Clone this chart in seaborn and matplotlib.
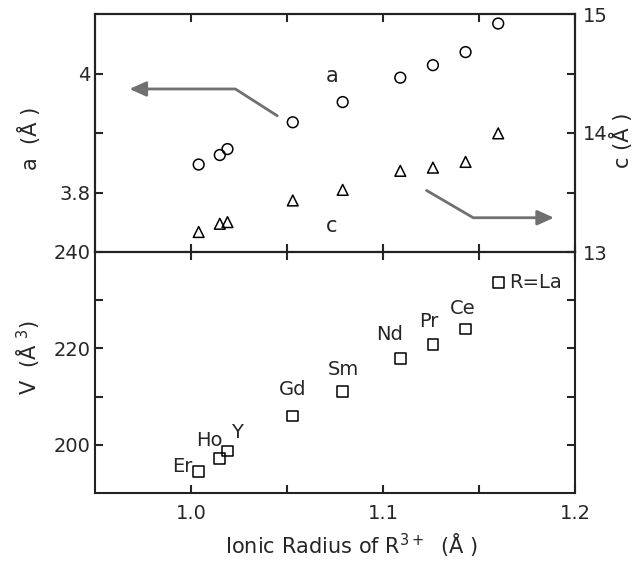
import matplotlib
matplotlib.use("Agg")
import matplotlib.pyplot as plt
import seaborn as sns
import pandas as pd
from matplotlib.ticker import FixedLocator

sns.set_style("white")
plt.rcParams['font.family'] = ['DejaVu Sans']
plt.rcParams['mathtext.fontset'] = 'dejavusans'

elements = ["Er", "Ho", "Y", "Gd", "Sm", "Nd", "Pr", "Ce", "R=La"]
radius = [1.004, 1.015, 1.019, 1.053, 1.079, 1.109, 1.126, 1.143, 1.160]
a_vals = [3.847, 3.863, 3.873, 3.918, 3.952, 3.993, 4.014, 4.036, 4.084]
c_vals = [13.168, 13.237, 13.251, 13.433, 13.522, 13.682, 13.709, 13.757, 13.997]
v_vals = [194.4, 197.2, 198.7, 206.0, 211.1, 217.9, 220.8, 224.0, 233.6]
# label offsets (points) and alignment
lab_dx = [-4.3, -7.7, 6.8, 0.0, 0.7, -7.9, -2.9, -1.8, 7.9]
lab_dy = [3.6, 12.7, 13.7, 18.7, 15.8, 17.3, 16.6, 15.1, 0.0]
lab_ha = ["right", "center", "center", "center", "center", "center", "center", "center", "left"]

df = pd.DataFrame({"r": radius, "a": a_vals, "c": c_vals, "V": v_vals, "el": elements})

fig = plt.figure(figsize=(6.4, 5.61), dpi=100)
L, R = 95 / 640, 575 / 640
ax1 = fig.add_axes([L, 1 - 252 / 561, R - L, (252 - 14) / 561])
ax3 = fig.add_axes([L, 1 - 493 / 561, R - L, (493 - 252) / 561], sharex=ax1)
ax2 = ax1.twinx()

mk = dict(facecolor="none", edgecolor="black", linewidth=1.1, s=60, legend=False)
sns.scatterplot(data=df, x="r", y="a", marker="o", ax=ax1, **mk)
sns.scatterplot(data=df, x="r", y="c", marker="^", ax=ax2, **mk)
sns.scatterplot(data=df, x="r", y="V", marker="s", ax=ax3, **mk)

ax1.set_xlim(0.95, 1.2)
ax1.set_ylim(3.7, 4.1)
ax2.set_ylim(13, 15)
ax3.set_ylim(190, 240)

fs = 14
for ax in (ax1, ax2, ax3):
    for sp in ax.spines.values():
        sp.set_linewidth(1.5)
        sp.set_color("#222222")
    ax.set_xlabel("")
    ax.set_ylabel("")

ax1.yaxis.set_major_locator(FixedLocator([3.8, 4.0]))
ax1.yaxis.set_minor_locator(FixedLocator([3.9]))
ax1.set_yticklabels(["3.8", "4"])
ax2.yaxis.set_major_locator(FixedLocator([13, 14, 15]))
ax2.yaxis.set_minor_locator(FixedLocator([13.5, 14.5]))
ax3.yaxis.set_major_locator(FixedLocator([200, 220, 240]))
ax3.yaxis.set_minor_locator(FixedLocator([210, 230]))
ax3.xaxis.set_major_locator(FixedLocator([1.0, 1.1, 1.2]))
ax3.xaxis.set_minor_locator(FixedLocator([1.05, 1.15]))
ax3.set_xticklabels(["1.0", "1.1", "1.2"])

for ax in (ax1, ax3):
    ax.tick_params(axis="both", which="both", direction="in", length=6, width=1.5,
                   top=True, bottom=True, left=True, right=(ax is ax3), labelsize=fs)
ax1.tick_params(axis="x", which="both", labelbottom=False)
ax2.tick_params(axis="y", which="both", direction="in", length=6, width=1.5,
                right=True, labelsize=fs, pad=6)
ax3.tick_params(axis="x", pad=8)

ax1.text(1.0733, 3.996, "a", fontsize=15, ha="center", va="center")
ax2.text(1.0733, 13.22, "c", fontsize=15, ha="center", va="center")

gray = "#707070"
ax1.plot([1.0449, 1.0231, 0.975], [3.929, 3.974, 3.974], color=gray, lw=2)
ax1.annotate("", xy=(0.9665, 3.974), xytext=(0.976, 3.974),
             arrowprops=dict(arrowstyle="-|>,head_length=1.0,head_width=0.45",
                             color=gray, lw=2))
ax2.plot([1.1227, 1.147, 1.182], [13.517, 13.288, 13.288], color=gray, lw=2)
ax2.annotate("", xy=(1.1905, 13.288), xytext=(1.181, 13.288),
             arrowprops=dict(arrowstyle="-|>,head_length=1.0,head_width=0.45",
                             color=gray, lw=2))

for x, y, t, dx, dy, ha in zip(radius, v_vals, elements, lab_dx, lab_dy, lab_ha):
    ax3.annotate(t, (x, y), xytext=(dx, dy), textcoords="offset points",
                 ha=ha, va="center", fontsize=fs)

fig.text(30 / 640, 1 - 138 / 561, "a  (Å )", rotation=90, ha="center", va="center", fontsize=15)
fig.text(622 / 640, 1 - 140 / 561, "c (Å )", rotation=90, ha="center", va="center", fontsize=15)
fig.text(28 / 640, 1 - 357 / 561, "V  (Å $^{3}$)", rotation=90, ha="center", va="center", fontsize=15)
fig.text(352 / 640, 1 - 545 / 561, "Ionic Radius of R$^{3+}$  (Å )", ha="center", va="center", fontsize=15)

fig.savefig("out.png", dpi=100)
